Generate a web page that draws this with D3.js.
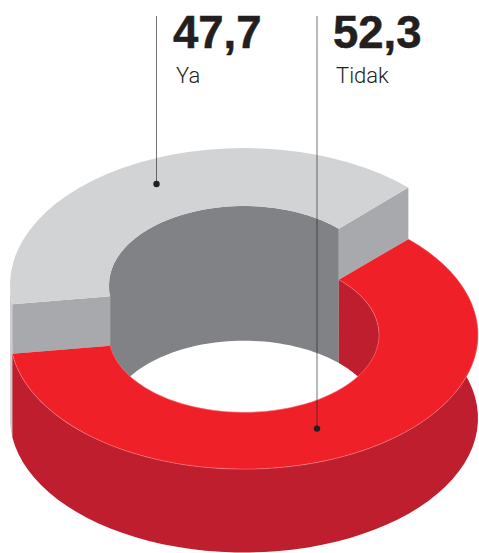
<!DOCTYPE html>
<html>
<head>
<meta charset="utf-8">
<style>
  html, body { margin: 0; padding: 0; background: #fff; }
  svg { display: block; }
</style>
<script src="https://cdn.jsdelivr.net/npm/d3@7/dist/d3.min.js"></script>
</head>
<body>
<svg id="chart" width="479" height="553"></svg>
<script>
// Survey answers, in percent
const categories = ["Ya", "Tidak"];
const values = [47.7, 52.3];
const valueLabels = ["47,7", "52,3"];
const topColors = ["#d1d3d4", "#ef2028"];

// Ring geometry: the far slice is raised above the red drum
const cx = 244, cyBack = 285, cyFront = 334.8, cyBase = 418.2;
const rOuter = 234, rInner = 135;
const tiltBack = 0.585, tiltFront = 0.574;

// The view axis points at the middle of the far slice; angles around it are
// compressed by the perspective of the camera.
const deg = Math.PI / 180;
const viewAxis = -26.75 * deg;
const perspective = 0.772;
const project = a => {
  const t = (a - viewAxis) / 2;
  return viewAxis + 2 * Math.atan2(perspective * Math.sin(t), Math.cos(t));
};

const farShare = values[0] / d3.sum(values) * 2 * Math.PI;
const pie = d3.pie().sort(null).startAngle(viewAxis - farShare / 2)
  .endAngle(viewAxis - farShare / 2 + 2 * Math.PI);
const slices = pie(values).map(s => ({
  ...s, startAngle: project(s.startAngle), endAngle: project(s.endAngle)
}));
const [far, near] = slices;

const arc = d3.arc();
const point = (r, a, level) => [
  cx + r * Math.sin(a),
  level.cy - r * level.tilt * Math.cos(a)
];
const back = { cy: cyBack, tilt: tiltBack };
const front = { cy: cyFront, tilt: tiltFront };
const base = { cy: cyBase, tilt: tiltFront };
const rimLine = d3.line();

// Outline of a cylindrical wall between two levels
function wall(r, a0, a1, upperLevel, lowerLevel) {
  const steps = d3.range(0, 61).map(i => a0 + (a1 - a0) * i / 60);
  const upper = steps.map(a => point(r, a, upperLevel));
  const lower = steps.slice().reverse().map(a => point(r, a, lowerLevel));
  return rimLine(upper.concat(lower)) + "Z";
}

// Flat radial cut face of the raised slice
function cutFace(a) {
  return rimLine([
    point(rOuter, a, back), point(rInner, a, back),
    point(rInner, a, front), point(rOuter, a, front)
  ]) + "Z";
}

const svg = d3.select("#chart");
const add = (d, fill) => svg.append("path").attr("d", d).attr("fill", fill);

const farStart = far.startAngle;               // left edge of the raised slice
const farEnd = far.endAngle;                   // right edge of the raised slice
const leftmost = -90 * deg, rightmost = 90 * deg;

// Outer walls: the thin raised rim on the left, then the red drum
add(wall(rOuter, farStart, leftmost, back, base), "#cbcccf");
add(wall(rOuter, near.startAngle, near.endAngle, front, base), "#be1e2d");

// Inside of the hole, far half only
add(wall(rInner, leftmost, farEnd, back, base), "#808285");
add(wall(rInner, farEnd, rightmost, front, base), "#be1e2d");

// Cut faces of the raised slice
add(cutFace(farStart), "#a7a9ac");
add(cutFace(farEnd), "#a7a9ac");

// Top faces, squashed into ellipses
const ring = { innerRadius: rInner, outerRadius: rOuter };
svg.append("path")
  .attr("d", arc({ ...ring, startAngle: near.startAngle, endAngle: near.endAngle }))
  .attr("transform", `translate(${cx},${cyFront}) scale(1,${tiltFront})`)
  .attr("fill", topColors[1]);
svg.append("path")
  .attr("d", arc({ ...ring, startAngle: far.startAngle, endAngle: far.endAngle }))
  .attr("transform", `translate(${cx},${cyBack}) scale(1,${tiltBack})`)
  .attr("fill", topColors[0]);

// Pale seam along the rims of the red top
[rOuter, rInner].forEach(r => {
  svg.append("path")
    .attr("d", rimLine(d3.range(0, 121).map(i =>
      point(r, near.startAngle + (near.endAngle - near.startAngle) * i / 120, front))))
    .attr("fill", "none")
    .attr("stroke", "#f5808a")
    .attr("stroke-width", 0.6);
});

// Leader lines and their end dots
const leaderX = [156.5, 317];
const leaderEnd = [184, 428.6];
categories.forEach((c, i) => {
  svg.append("line")
    .attr("x1", leaderX[i]).attr("x2", leaderX[i])
    .attr("y1", 16).attr("y2", leaderEnd[i])
    .attr("stroke", "#231f20").attr("stroke-opacity", 0.62).attr("stroke-width", 1);
  svg.append("circle")
    .attr("cx", leaderX[i]).attr("cy", leaderEnd[i]).attr("r", 3.2)
    .attr("fill", "#231f20");
});

// Value figures and category names
const valueX = [173, 333];
const nameX = [176, 336];
categories.forEach((c, i) => {
  svg.append("text")
    .attr("x", valueX[i]).attr("y", 47.5)
    .attr("font-family", "'Liberation Sans', Arial, sans-serif")
    .attr("font-weight", 700).attr("font-size", 45.5)
    .attr("fill", "#231f20")
    .attr("stroke", "#231f20").attr("stroke-width", 0.5)
    .text(valueLabels[i]);
  svg.append("text")
    .attr("x", nameX[i]).attr("y", 83)
    .attr("font-family", "Roboto, 'Liberation Sans', sans-serif")
    .attr("font-weight", 300).attr("font-size", 22)
    .attr("fill", "#231f20")
    .text(c);
});
</script>
</body>
</html>
